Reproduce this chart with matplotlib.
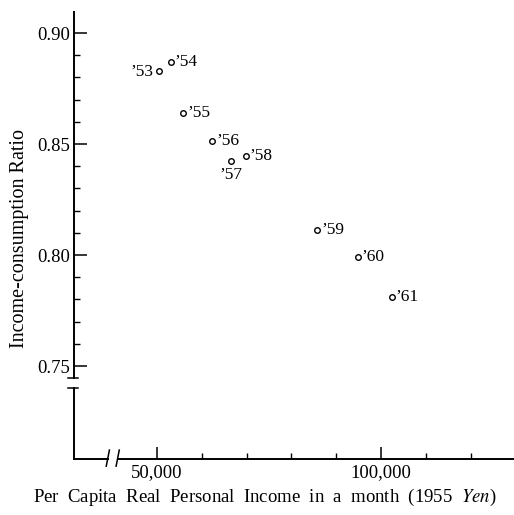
import matplotlib
matplotlib.use("Agg")
import matplotlib.pyplot as plt
import matplotlib.transforms as mtransforms

# ---- data ----
years = ["\u201953", "\u201954", "\u201955", "\u201956", "\u201957",
         "\u201958", "\u201959", "\u201960", "\u201961"]
income = [50450, 53100, 55800, 62300, 66500, 69800, 85800, 94800, 102400]
ratio = [0.883, 0.887, 0.864, 0.8515, 0.8425, 0.8447, 0.8113, 0.799, 0.7812]
label_pos = ["left", "right", "right", "right", "below",
             "right", "right", "right", "right"]

y_major = [0.75, 0.80, 0.85, 0.90]
y_major_labels = ["0.75", "0.80", "0.85", "0.90"]
x_major = [50000, 100000]
x_major_labels = ["50,000", "100,000"]

plt.rcParams["font.family"] = ["Liberation Serif", "DejaVu Serif"]
plt.rcParams["mathtext.fontset"] = "stix"

fig = plt.figure(figsize=(5.14, 5.15), dpi=100)
W, H = 514, 515
left_px, right_px, bottom_px, top_px = 74, 514, 459, 12
ax = fig.add_axes([left_px / W, 1 - bottom_px / H,
                   (right_px - left_px) / W, (bottom_px - top_px) / H])

ax.set_xlim(31500, 129700)
ax.set_ylim(0.7081, 0.9095)

for s in ax.spines.values():
    s.set_visible(False)

# axes lines with breaks
ybt = mtransforms.blended_transform_factory(ax.transAxes, ax.transData)
xbt = mtransforms.blended_transform_factory(ax.transData, ax.transAxes)
lw = 1.4
yb_lo, yb_hi = 0.7402, 0.7447
ax.plot([0, 0], [0.7081, yb_lo], color="black", lw=lw, transform=ybt, clip_on=False)
ax.plot([0, 0], [yb_hi, 0.9095], color="black", lw=lw, transform=ybt, clip_on=False)
for yb in (yb_lo, yb_hi):
    ax.plot([-0.014, 0.01], [yb, yb], color="black", lw=1.1, transform=ybt, clip_on=False)

xb_lo, xb_hi = 39100, 41300
ax.plot([31500, xb_lo], [0, 0], color="black", lw=lw, transform=xbt, clip_on=False)
ax.plot([xb_hi, 129700], [0, 0], color="black", lw=lw, transform=xbt, clip_on=False)
for xb in (xb_lo, xb_hi):
    ax.plot([xb - 400, xb + 300], [-0.016, 0.02], color="black", lw=1.1,
            transform=xbt, clip_on=False)

# ticks
ax.set_yticks(y_major)
ax.set_yticklabels(y_major_labels)
ax.set_yticks([0.76, 0.77, 0.78, 0.79, 0.81, 0.82, 0.83, 0.84,
               0.86, 0.87, 0.88, 0.89], minor=True)
ax.set_xticks(x_major)
ax.set_xticklabels(x_major_labels)
ax.set_xticks([60000, 70000, 80000, 90000, 110000, 120000], minor=True)
ax.tick_params(axis="both", which="major", direction="in", length=9, width=1.1,
               labelsize=13.5, pad=4, colors="black")
ax.tick_params(axis="both", which="minor", direction="in", length=4, width=1.0)
ax.tick_params(axis="y", which="major", pad=3)

# points
ax.plot(income, ratio, linestyle="none", marker="o", markersize=4,
        markerfacecolor="white", markeredgecolor="black", markeredgewidth=1.0,
        clip_on=False)

for x, y, lab, pos in zip(income, ratio, years, label_pos):
    if pos == "left":
        ax.annotate(lab, (x, y), xytext=(-4, -1), textcoords="offset points",
                    ha="right", va="center", fontsize=12.5)
    elif pos == "below":
        ax.annotate(lab, (x, y), xytext=(0, -10), textcoords="offset points",
                    ha="center", va="center", fontsize=12.5)
    else:
        ax.annotate(lab, (x, y), xytext=(3, 0), textcoords="offset points",
                    ha="left", va="center", fontsize=12.5)

fig.text(20 / W, 1 - 238 / H, "Income-consumption Ratio", rotation=90,
         ha="center", va="center", fontsize=14.5)
fig.text(33 / W, 1 - 497 / H,
         "Per  Capita  Real  Personal  Income  in  a  month  (1955  $\\mathit{Yen}$)",
         ha="left", va="center", fontsize=13.5)

fig.savefig("out.png", dpi=100)
